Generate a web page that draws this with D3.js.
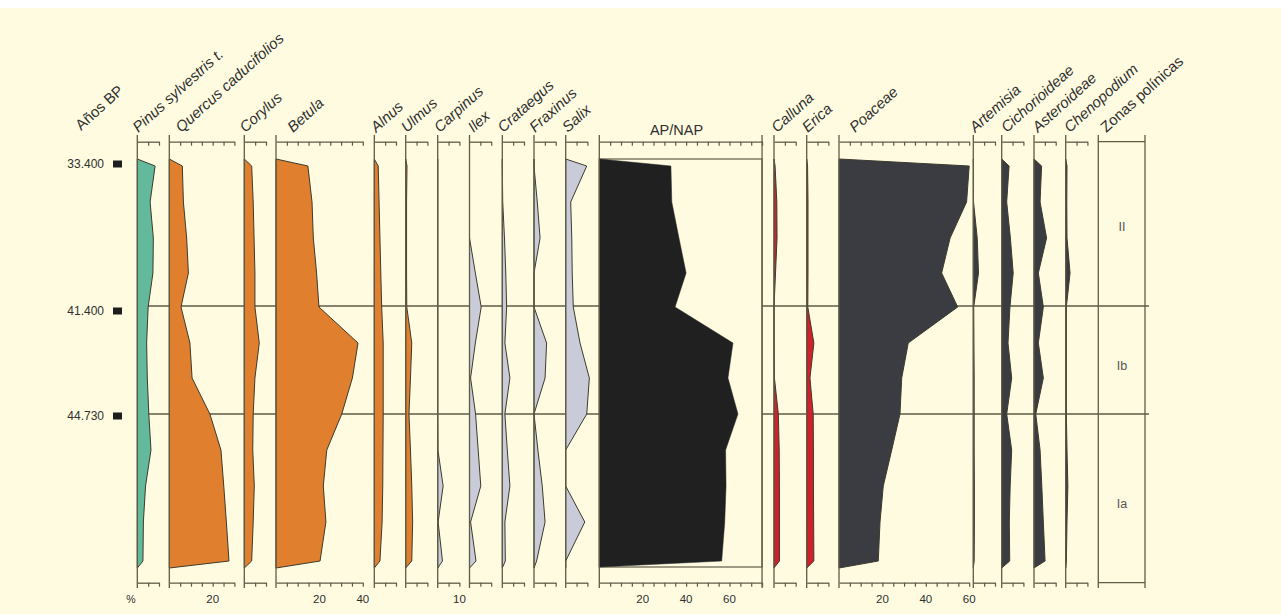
<!DOCTYPE html>
<html><head><meta charset="utf-8">
<script src="https://cdn.jsdelivr.net/npm/d3@7"></script>
<style>body{margin:0;background:#fefbe0;} svg{display:block;}</style>
</head><body><svg id="c" width="1281" height="614"></svg>
<script>
// ---------- DATA ----------
const depths = [0, 36, 72, 107, 141, 177, 212, 248, 284, 320, 356, 395]; // sample depths (arbitrary units)
const ageLabels = ["33.400", "41.400", "44.730"];
const ageDepths = [-2, 145, 250];
const zoneBounds = [140, 248];
const zoneNames = ["II", "Ib", "Ia"];
const zoneMid = [60, 199, 337];

const pinus      = [8.2, 5.9, 7.4, 7.2, 5.0, 4.3, 4.6, 5.3, 6.3, 3.8, 2.8, 2.6];
const quercus    = [6.0, 6.5, 8.0, 8.8, 5.4, 9.5, 10.5, 18.7, 23.8, 25.1, 26.3, 27.5];
const corylus    = [3.4, 4.1, 4.5, 4.9, 4.9, 6.9, 4.9, 4.1, 3.9, 4.6, 4.1, 3.4];
const betula     = [14.7, 16.6, 17.2, 18.7, 19.8, 37.8, 35.2, 30.3, 23.4, 21.8, 23.0, 20.3];
const alnus      = [1.8, 2.2, 2.6, 3.0, 3.4, 4.1, 4.1, 4.1, 4.0, 3.9, 3.6, 2.6];
const ulmus      = [0.6, 0.4, 0.4, 0.4, 0.5, 2.8, 2.2, 1.5, 2.2, 2.8, 3.2, 2.8];
const carpinus   = [0, 0, 0, 0, 0, 0, 0, 0, 0.1, 2.5, 0.2, 2.2];
const ilex       = [0, 0, 0, 2.7, 5.4, 2.7, 0.5, 2.8, 4.0, 5.2, 0.5, 3.0];
const crataegus  = [0, 0.2, 1.0, 1.6, 2.0, 1.2, 3.5, 1.2, 2.3, 3.5, 1.2, 1.4];
const fraxinus   = [0, 1.5, 2.8, 0, 0, 5.8, 5.1, 0, 1.8, 3.8, 5.1, 1.2];
const salix      = [9.7, 2.3, 2.8, 3.0, 3.5, 6.6, 10.9, 9.7, 0, 0, 8.8, 0];
const apnap      = [33.0, 33.4, 36.7, 40.0, 34.9, 61.6, 59.3, 63.9, 58.2, 58.4, 57.8, 56.4];
const calluna    = [0.5, 1.3, 1.4, 0.7, 0, 0, 0.2, 2.0, 2.4, 2.5, 2.5, 2.5];
const erica      = [0.4, 0.6, 0.6, 0.6, 0.5, 3.3, 1.5, 3.0, 3.1, 3.1, 3.2, 3.3];
const poaceae    = [60.0, 58.8, 51.2, 47.3, 54.7, 31.9, 28.9, 28.1, 24.3, 20.4, 18.9, 18.1];
const artemisia  = [0.1, 0.1, 1.8, 2.4, 0.2, 0.3, 0.4, 0.4, 0.4, 0.5, 0.5, 0.4];
const cichorio   = [3.4, 2.3, 4.0, 5.3, 3.8, 2.9, 4.6, 2.3, 4.6, 3.9, 3.5, 3.7];
const asteroid   = [3.5, 2.8, 5.8, 2.0, 4.3, 2.0, 4.3, 0.8, 2.8, 3.6, 4.3, 5.1];
const chenopod   = [0.6, 0.5, 0.6, 2.0, 0.3, 0.3, 0.3, 0.3, 0.6, 1.0, 0.6, 0.3];

const taxaNames = ["Pinus sylvestris t.", "Quercus caducifolios", "Corylus", "Betula", "Alnus", "Ulmus",
  "Carpinus", "Ilex", "Crataegus", "Fraxinus", "Salix", "AP/NAP", "Calluna", "Erica", "Poaceae",
  "Artemisia", "Cichorioideae", "Asteroideae", "Chenopodium"];
const taxaValues = [pinus, quercus, corylus, betula, alnus, ulmus, carpinus, ilex, crataegus, fraxinus,
  salix, apnap, calluna, erica, poaceae, artemisia, cichorio, asteroid, chenopod];
const taxaMax = [10, 30, 10, 40, 10, 10, 10, 10, 10, 10, 10, 75, 10, 10, 60, 10, 10, 10, 10];
const bottomTickLabels = [[], [20], [], [20, 40], [], [], [10], [], [], [], [], [20, 40, 60], [], [], [20, 40, 60], [], [], [], []];

// ---------- LAYOUT / STYLE ----------
const panelLeft = [137.3, 169.3, 244.3, 276, 374.3, 405.7, 437.7, 469.5, 502.3, 534, 565.7, 599.3,
  774, 806.7, 839, 973.3, 1001.7, 1034, 1065.7];
const labelShift = [1, 12, 1, 17, 2, 1, 2, 4, 1, 1, 2, 0, 3, 1, 16, 2, 5, 4, 4];
const teal = "#63b99b", orange = "#e0802f", grey = "#c9ccd8", red = "#d2202b", dark = "#3a3c42", black = "#202020";
const fills = [teal, orange, orange, orange, orange, orange, grey, grey, grey, grey, grey, black,
  red, red, dark, dark, dark, dark, dark];
const K = 2.17;
const lineC = "#5f5b47";
const textC = "#2f2f2f";
const font = "'Liberation Sans', Arial, sans-serif";
const zoneLeft = 1098.3, zoneRight = 1145;
const ANG = -42, HF = 15;

const W = 1281, H = 614;
const svg = d3.select("#c");
svg.append("rect").attr("width", W).attr("height", H).attr("fill", "#fefbe0");
svg.append("rect").attr("width", W).attr("height", 8).attr("fill", "#ffffff");

const y = d3.scaleLinear().domain([-7, 402]).range([159, 568]);
const yTopAxis = 141.7, yBotAxis = 582.7, spineTop = 135, spineBot = 588;

// zone boundary lines (behind polygons)
svg.append("g").selectAll("line").data(zoneBounds).join("line")
  .attr("x1", 137).attr("x2", 1149)
  .attr("y1", d => y(d)).attr("y2", d => y(d))
  .attr("stroke", lineC).attr("stroke-width", 1.3);

const gen = d3.line().x(d => d[0]).y(d => d[1]);

taxaNames.forEach((name, i) => {
  const max = taxaMax[i];
  const x = d3.scaleLinear().domain([0, max]).range([panelLeft[i], panelLeft[i] + max * K]);
  const g = svg.append("g");
  const isAP = name === "AP/NAP";
  if (isAP) {
    g.append("rect").attr("x", x(0)).attr("y", y(-7)).attr("width", x(max) - x(0)).attr("height", y(401) - y(-7))
      .attr("fill", "#fefbe0").attr("stroke", lineC).attr("stroke-width", 1.2);
  }
  const pts = [[x(0), y(-7)]].concat(taxaValues[i].map((v, j) => [x(v), y(depths[j])])).concat([[x(0), y(isAP ? 401 : 402)]]);
  g.append("path").attr("d", gen(pts) + "Z")
    .attr("fill", fills[i])
    .attr("stroke", isAP ? black : "#3d3a2e").attr("stroke-width", isAP ? 0.5 : 1)
    .attr("stroke-linejoin", "miter");

  // axes
  const ticks = d3.range(5, max + 0.01, 5);
  [yTopAxis, yBotAxis].forEach(yy => {
    const ax = g.append("g").attr("transform", `translate(0,${yy})`)
      .call(d3.axisBottom(x).tickValues(ticks).tickSizeInner(4).tickSizeOuter(0).tickFormat(""));
    ax.select(".domain").attr("stroke", lineC).attr("stroke-width", 1.3);
    ax.selectAll(".tick line").attr("stroke", lineC).attr("stroke-width", 1.2);
  });
  g.append("line").attr("x1", x(0)).attr("x2", x(0)).attr("y1", spineTop).attr("y2", spineBot)
    .attr("stroke", lineC).attr("stroke-width", 1.3);
  if (isAP) {
    g.append("line").attr("x1", x(max)).attr("x2", x(max)).attr("y1", spineTop).attr("y2", spineBot)
      .attr("stroke", lineC).attr("stroke-width", 1.3);
  }
  // bottom labels
  g.selectAll("text.bl").data(bottomTickLabels[i]).join("text").attr("class", "bl")
    .attr("x", d => x(d)).attr("y", 603).attr("text-anchor", "middle")
    .attr("font-family", font).attr("font-size", 11.5).attr("fill", textC).text(d => d);

  // header label
  if (isAP) {
    g.append("text").attr("x", 676.5).attr("y", 135).attr("text-anchor", "middle")
      .attr("font-family", font).attr("font-size", 14.5).attr("fill", textC).text(name);
  } else {
    g.append("text").attr("transform", `translate(${panelLeft[i] + labelShift[i]},133) rotate(${ANG})`)
      .attr("font-family", font).attr("font-size", HF).attr("font-style", "italic")
      .attr("fill", textC).text(name);
  }
});

// "%" label
svg.append("text").attr("x", 131).attr("y", 603).attr("text-anchor", "middle")
  .attr("font-family", font).attr("font-size", 10.5).attr("fill", textC).text("%");

// Años BP
svg.append("text").attr("transform", `translate(81,131) rotate(${ANG})`)
  .attr("font-family", font).attr("font-size", HF).attr("fill", textC).text("Años BP");
ageLabels.forEach((t, i) => {
  const yy = y(ageDepths[i]);
  svg.append("text").attr("x", 104).attr("y", yy + 4.3).attr("text-anchor", "end")
    .attr("font-family", font).attr("font-size", 12).attr("fill", textC).text(t);
  svg.append("rect").attr("x", 113).attr("y", yy - 3.5).attr("width", 9).attr("height", 7).attr("fill", "#1e1e1e");
});

// Zonas polínicas box
const zg = svg.append("g");
zg.append("line").attr("x1", zoneLeft).attr("x2", zoneRight).attr("y1", yTopAxis).attr("y2", yTopAxis).attr("stroke", lineC).attr("stroke-width", 1.3);
zg.append("line").attr("x1", zoneLeft).attr("x2", zoneRight).attr("y1", yBotAxis).attr("y2", yBotAxis).attr("stroke", lineC).attr("stroke-width", 1.3);
[zoneLeft, zoneRight].forEach(xx => zg.append("line").attr("x1", xx).attr("x2", xx).attr("y1", spineTop).attr("y2", spineBot).attr("stroke", lineC).attr("stroke-width", 1.3));
zg.selectAll("text.z").data(zoneNames).join("text").attr("class", "z")
  .attr("x", 1122).attr("y", (d, i) => y(zoneMid[i]) + 4.5).attr("text-anchor", "middle")
  .attr("font-family", font).attr("font-size", 12.5).attr("fill", "#555").text(d => d);
zg.append("text").attr("transform", `translate(${zoneLeft + 8},133) rotate(${ANG})`)
  .attr("font-family", font).attr("font-size", HF).attr("fill", textC).text("Zonas polínicas");
</script></body></html>
